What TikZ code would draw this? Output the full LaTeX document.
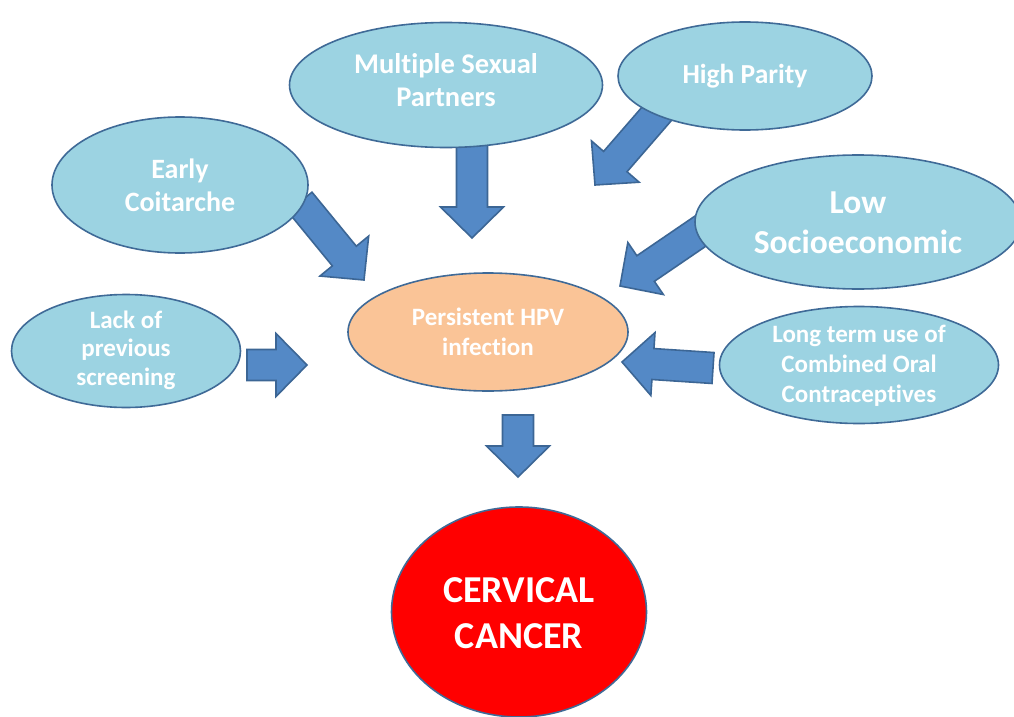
\documentclass[tikz,border=0pt]{standalone}
\usepackage{fontspec}
\setmainfont{Carlito}[Ligatures=NoCommon]
\usetikzlibrary{shapes.geometric,calc}
\definecolor{bubfill}{HTML}{9CD3E2}
\definecolor{bubline}{HTML}{3F6A97}
\definecolor{arrfill}{HTML}{5489C6}
\definecolor{arrline}{HTML}{3C6695}
\definecolor{hpvfill}{HTML}{FAC497}
\definecolor{cancerred}{HTML}{FF0000}
\tikzset{
  bub/.style={ellipse, draw=bubline, line width=1.6pt, fill=bubfill, inner sep=0pt},
  txt/.style={text=white, align=center, font=\bfseries},
  arr/.style={draw=arrline, line width=1.6pt, fill=arrfill, line join=miter},
}
\newcommand\blockarr[2]{%
  \path ($(#2)!31pt!(#1)$) coordinate (hb);
  \draw[arr] ($(#1)!15.5pt!90:(#2)$) -- ($(hb)!15.5pt!90:(#2)$) -- ($(hb)!31.5pt!90:(#2)$) -- (#2)
    -- ($(hb)!31.5pt!-90:(#2)$) -- ($(hb)!15.5pt!-90:(#2)$) -- ($(#1)!15.5pt!-90:(#2)$) -- cycle;}
\begin{document}
\begin{tikzpicture}[x=1pt,y=-1pt]
\useasboundingbox (0,0) rectangle (1014,717);
\fill[white] (0,0) rectangle (1014,717);
% arrow end points
\coordinate (msps) at (472,135);   \coordinate (mspe) at (472,238);
\coordinate (hps)  at (660,110);   \coordinate (hpe)  at (595,185);
\coordinate (ecs)  at (300,202);   \coordinate (ece)  at (364,280);
\coordinate (lss)  at (705,228);   \coordinate (lse)  at (620,286);
\coordinate (lts)  at (713,368);   \coordinate (lte)  at (622,362);
\coordinate (lps)  at (247,365);   \coordinate (lpe)  at (307,365);
\coordinate (cas)  at (518,415);   \coordinate (cae)  at (518,477);
% arrows (drawn behind the ellipses)
\blockarr{msps}{mspe}
\blockarr{hps}{hpe}
\blockarr{ecs}{ece}
\blockarr{lss}{lse}
\blockarr{lts}{lte}
\blockarr{lps}{lpe}
\blockarr{cas}{cae}
% ellipses
\node[bub, minimum width=313pt, minimum height=125pt] (msp) at (446,85) {};
\node[txt, font=\bfseries\fontsize{28.5}{33}\selectfont] at (446,80) {Multiple Sexual\\Partners};
\node[bub, minimum width=254pt, minimum height=108pt] (hp) at (745,76) {};
\node[txt, font=\bfseries\fontsize{27.5}{33}\selectfont] at (745,76) {High Parity};
\node[bub, minimum width=256pt, minimum height=136pt] (ec) at (180,185) {};
\node[txt, font=\bfseries\fontsize{28}{33}\selectfont] at (180,185) {Early\\Coitarche};
\node[bub, minimum width=326pt, minimum height=134pt] (ls) at (858,222) {};
\node[txt, font=\bfseries\fontsize{33.5}{40}\selectfont] at (858,223) {Low\\Socioeconomic};
\node[bub, minimum width=279pt, minimum height=117pt] (lt) at (859,365) {};
\node[txt, font=\bfseries\fontsize{25}{30}\selectfont] at (859,366) {Long term use of\\Combined Oral\\Contraceptives};
\node[bub, minimum width=229pt, minimum height=113pt] (lp) at (126,351) {};
\node[txt, font=\bfseries\fontsize{25}{28.5}\selectfont] at (126,350) {Lack of\\previous\\screening};
\node[ellipse, draw=bubline, line width=1.6pt, fill=hpvfill, inner sep=0pt, minimum width=280pt, minimum height=118pt] (hpv) at (488,332) {};
\node[txt, font=\bfseries\fontsize{25}{30}\selectfont] at (488,332) {Persistent HPV\\infection};
\node[ellipse, draw=bubline, line width=1.6pt, fill=cancerred, inner sep=0pt, minimum width=255pt, minimum height=210pt] (cc) at (519,612) {};
\node[txt, font=\bfseries\fontsize{38}{46}\selectfont] at (519,613) {CERVICAL\\CANCER};
\end{tikzpicture}
\end{document}
